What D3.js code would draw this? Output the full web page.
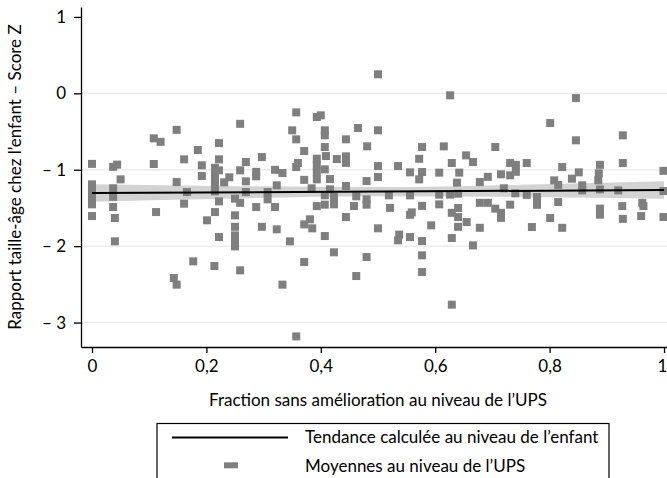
<!DOCTYPE html>
<html>
<head>
<meta charset="utf-8">
<script src="https://cdn.jsdelivr.net/npm/d3@7/dist/d3.min.js"></script>
<style>
  html, body { margin: 0; padding: 0; background: #fff; }
  svg { display: block; font-family: "Lato", "Open Sans", sans-serif; }
</style>
</head>
<body>
<svg id="chart" width="667" height="478"></svg>
<script>
// Moyennes par UPS : fraction sans amélioration (x) et score Z moyen (y)
const upsX = [
  0.000, 0.037, 0.044, 0.108, 0.120, 0.148, 0.108, 0.161, 0.185, 0.222,
  0.259, 0.222, 0.192, 0.215, 0.269, 0.259, 0.297, 0.192, 0.222, 0.215,
  0.215, 0.215, 0.231, 0.240, 0.215, 0.222, 0.287, 0.287, 0.320, 0.333,
  0.269, 0.323, 0.050, 0.148, 0.000, 0.000, 0.000, 0.000, 0.000, 0.000,
  0.037, 0.037, 0.037, 0.040, 0.040, 0.166, 0.161, 0.112, 0.201, 0.215,
  0.250, 0.259, 0.269, 0.250, 0.287, 0.307, 0.307, 0.320, 0.250, 0.297,
  0.323, 0.250, 0.250, 0.250, 0.222, 0.177, 0.214, 0.259, 0.143, 0.148,
  0.346, 0.407, 0.333, 0.357,
  0.500, 0.626, 0.357, 0.393, 0.400, 0.350, 0.407, 0.407, 0.465, 0.500,
  0.357, 0.444, 0.371, 0.407, 0.481, 0.577, 0.615, 0.393, 0.409, 0.428,
  0.444, 0.444, 0.360, 0.357, 0.393, 0.407, 0.500, 0.535, 0.572, 0.629,
  0.654, 0.556, 0.577, 0.607, 0.642, 0.393, 0.393, 0.500, 0.371, 0.416,
  0.480, 0.572, 0.638, 0.384, 0.416, 0.444, 0.407, 0.407, 0.423, 0.423,
  0.462, 0.458, 0.480, 0.480, 0.519, 0.521, 0.556, 0.577, 0.607, 0.607,
  0.626, 0.640, 0.393, 0.629, 0.640, 0.640, 0.640, 0.444, 0.381, 0.371,
  0.385, 0.500, 0.537, 0.535, 0.556, 0.577, 0.556, 0.559, 0.593, 0.629,
  0.423, 0.480, 0.371, 0.577, 0.577, 0.462, 0.629, 0.655,
  0.846, 0.801, 0.928, 0.846, 0.705, 0.666, 0.731, 0.741, 0.760, 0.822,
  0.888, 0.928, 0.692, 0.715, 0.731, 0.741, 0.851, 0.886, 0.999, 0.666,
  0.678, 0.720, 0.740, 0.760, 0.778, 0.778, 0.678, 0.692, 0.705, 0.715,
  0.715, 0.731, 0.678, 0.769, 0.801, 0.815, 0.822, 0.808, 0.815, 0.839,
  0.857, 0.857, 0.885, 0.888, 0.888, 0.888, 0.920, 0.927, 0.928, 0.960,
  0.962, 0.964, 0.999, 0.999
];
const upsY = [
  -0.923, -0.962, -0.933, -0.589, -0.635, -0.478, -0.925, -0.864, -0.742, -0.651,
  -0.399, -0.864, -0.942, -0.975, -0.899, -1.008, -0.834, -1.082, -1.008, -1.060,
  -1.126, -1.204, -1.165, -1.099, -1.283, -1.414, -1.027, -1.086, -1.001, -1.043,
  -1.152, -1.204, -1.126, -1.161, -1.191, -1.257, -1.322, -1.387, -1.453, -1.606,
  -1.243, -1.355, -1.488, -1.632, -1.937, -1.292, -1.444, -1.554, -1.662, -1.554,
  -1.378, -1.433, -1.292, -1.597, -1.488, -1.292, -1.387, -1.488, -1.747, -1.747,
  -1.780, -1.859, -1.924, -2.003, -1.881, -2.199, -2.260, -2.317, -2.417, -2.504,
  -1.937, -1.868, -2.504, -3.181,
  0.249, -0.026, -0.249, -0.310, -0.288, -0.484, -0.484, -0.550, -0.454, -0.484,
  -0.602, -0.602, -0.755, -0.703, -0.694, -0.703, -0.694, -0.855, -0.821, -0.860,
  -0.825, -0.910, -0.912, -0.965, -0.942, -0.995, -0.952, -0.952, -0.857, -0.912,
  -0.812, -1.034, -1.030, -1.038, -1.038, -1.034, -1.126, -1.096, -1.132, -1.122,
  -1.148, -1.126, -1.169, -1.243, -1.257, -1.213, -1.335, -1.457, -1.357, -1.453,
  -1.348, -1.475, -1.387, -1.457, -1.335, -1.499, -1.335, -1.473, -1.326, -1.453,
  -1.326, -1.313, -1.476, -1.564, -1.501, -1.619, -1.747, -1.619, -1.649, -1.715,
  -1.767, -1.767, -1.849, -1.924, -1.881, -1.933, -1.590, -1.558, -1.728, -1.894,
  -2.081, -2.143, -2.208, -2.120, -2.339, -2.391, -2.766, -1.685,
  -0.062, -0.389, -0.550, -0.615, -0.703, -0.899, -0.912, -0.936, -0.912, -0.965,
  -0.936, -0.912, -1.093, -1.060, -1.073, -1.027, -1.034, -1.047, -1.014, -1.990,
  -1.161, -1.243, -1.309, -1.329, -1.357, -1.459, -1.433, -1.433, -1.509, -1.564,
  -1.630, -1.457, -1.760, -1.750, -1.632, -1.423, -1.760, -1.139, -1.198, -1.117,
  -1.204, -1.270, -1.139, -1.257, -1.509, -1.588, -1.270, -1.476, -1.643, -1.606,
  -1.433, -1.476, -1.279, -1.619
];

// Tendance linéaire au niveau de l'enfant et son intervalle de confiance
const trendX = [0, 1];
const trendY = [-1.305, -1.266];
const bandX  = [0, 0.25, 0.5, 0.75, 1];
const bandLo = [-1.419, -1.375, -1.346, -1.356, -1.380];
const bandHi = [-1.191, -1.215, -1.226, -1.196, -1.152];

// Graduations
const xTicks = [0, 0.2, 0.4, 0.6, 0.8, 1];
const xTickLabels = ["0", "0,2", "0,4", "0,6", "0,8", "1"];
const yTicks = [-3, -2, -1, 0, 1];
const yTickLabels = ["– 3", "– 2", "– 1", "0", "1"];
const gridValues = [-3, -2, -1, 0];

const xTitle = "Fraction sans amélioration au niveau de l’UPS";
const yTitle = "Rapport taille-âge chez l’enfant – Score Z";
const legendLabels = ["Tendance calculée au niveau de l’enfant", "Moyennes au niveau de l’UPS"];

const svg = d3.select("#chart");
const fontSize = 17;
const markerColor = "#7f7f7f";

const x = d3.scaleLinear().domain([-0.0192, 1.0052]).range([81, 667]);
const y = d3.scaleLinear().domain([-3.32, 1.13]).range([347, 7]);

// Lignes de grille horizontales
svg.append("g")
  .selectAll("line")
  .data(gridValues)
  .join("line")
  .attr("x1", x.range()[0]).attr("x2", x.range()[1])
  .attr("y1", d => y(d)).attr("y2", d => y(d))
  .attr("stroke", "#ebebeb").attr("stroke-width", 1.5);

// Intervalle de confiance
const band = bandX.map((v, i) => ({ x: v, lo: bandLo[i], hi: bandHi[i] }));
svg.append("path")
  .datum(band)
  .attr("fill", "#d3d3d3")
  .attr("d", d3.area()
    .x(d => x(d.x)).y0(d => y(d.lo)).y1(d => y(d.hi))
    .curve(d3.curveMonotoneX));

// Points : moyennes par UPS
const side = 8;
svg.append("g")
  .selectAll("rect")
  .data(upsX.map((v, i) => ({ x: v, y: upsY[i] })))
  .join("rect")
  .attr("x", d => x(d.x) - side / 2)
  .attr("y", d => y(d.y) - side / 2)
  .attr("width", side).attr("height", side)
  .attr("fill", markerColor);

// Droite de tendance
svg.append("path")
  .datum(trendX.map((v, i) => ({ x: v, y: trendY[i] })))
  .attr("fill", "none")
  .attr("stroke", "#000")
  .attr("stroke-width", 2)
  .attr("d", d3.line().x(d => x(d.x)).y(d => y(d.y)));

// Axes
const xAxis = svg.append("g")
  .attr("transform", `translate(0,${y.range()[0]})`)
  .call(d3.axisBottom(x)
    .tickValues(xTicks)
    .tickFormat((d, i) => xTickLabels[i])
    .tickSizeOuter(0).tickSizeInner(6).tickPadding(7));

const yAxis = svg.append("g")
  .attr("transform", `translate(${x.range()[0]},0)`)
  .call(d3.axisLeft(y)
    .tickValues(yTicks)
    .tickFormat((d, i) => yTickLabels[yTicks.indexOf(d)])
    .tickSizeOuter(0).tickSizeInner(7).tickPadding(8));

[xAxis, yAxis].forEach(g => {
  g.select(".domain").attr("stroke", "#000").attr("stroke-width", 1.3);
  g.selectAll(".tick line").attr("stroke", "#000").attr("stroke-width", 1.3);
  g.selectAll(".tick text")
    .attr("fill", "#000")
    .style("font-family", "Lato, 'Open Sans', sans-serif")
    .style("font-size", fontSize + "px");
});
// le dernier libellé touche le bord droit : on le garde dans le cadre
xAxis.selectAll(".tick text").filter(d => d === 1).attr("dx", "-2");

// Titres des axes
svg.append("text")
  .attr("x", 378).attr("y", 406)
  .attr("text-anchor", "middle")
  .style("font-size", fontSize + "px")
  .text(xTitle);

svg.append("text")
  .attr("transform", "translate(21,177) rotate(-90)")
  .attr("text-anchor", "middle")
  .style("font-size", fontSize + "px")
  .text(yTitle);

// Légende
const legend = svg.append("g");
legend.append("rect")
  .attr("x", 157).attr("y", 423.5)
  .attr("width", 452).attr("height", 70)
  .attr("fill", "#fff").attr("stroke", "#000").attr("stroke-width", 1.2);
legend.append("line")
  .attr("x1", 172).attr("x2", 288)
  .attr("y1", 437.5).attr("y2", 437.5)
  .attr("stroke", "#000").attr("stroke-width", 2);
legend.append("rect")
  .attr("x", 224).attr("y", 462.3)
  .attr("width", 14).attr("height", 6)
  .attr("fill", markerColor);
legend.selectAll("text.lab")
  .data(legendLabels)
  .join("text")
  .attr("class", "lab")
  .attr("x", 305)
  .attr("y", (d, i) => 443 + i * 28.5)
  .style("font-size", fontSize + "px")
  .text(d => d);
</script>
</body>
</html>
